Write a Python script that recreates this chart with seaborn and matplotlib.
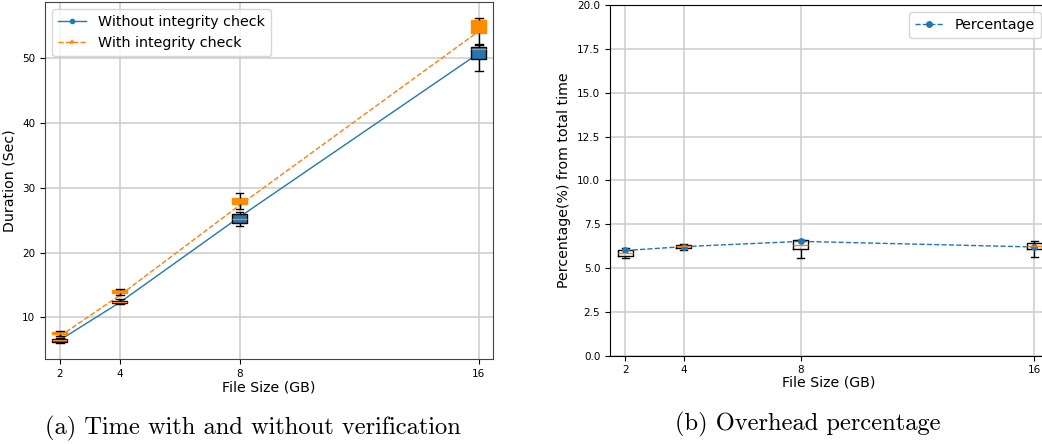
import numpy as np
import pandas as pd
import matplotlib
matplotlib.use("Agg")
import matplotlib.pyplot as plt
import seaborn as sns

# ---------------- data ----------------
sizes = [2, 4, 8, 16]
xtick_labels = ["2", "4", "8", "16"]

# five-number samples (min, q1, median, q3, max) per file size
without_samples = [
    [6.0, 6.2, 6.45, 6.6, 6.75],
    [12.0, 12.15, 12.35, 12.5, 12.8],
    [24.1, 24.5, 25.2, 25.95, 26.3],
    [48.0, 49.85, 51.4, 51.8, 52.1],
]
with_samples = [
    [7.1, 7.4, 7.6, 7.8, 7.9],
    [13.45, 13.8, 14.0, 14.2, 14.3],
    [26.7, 27.5, 28.0, 28.5, 29.15],
    [52.2, 53.95, 55.0, 55.9, 56.2],
]
without_mean = [6.5, 12.3, 25.5, 50.8]
with_mean = [7.1, 13.4, 27.3, 54.2]

pct_samples = [
    [5.57, 5.70, 5.85, 6.00, 6.14],
    [6.00, 6.14, 6.23, 6.33, 6.39],
    [5.60, 6.10, 6.29, 6.58, 6.62],
    [5.62, 6.08, 6.27, 6.42, 6.52],
]
pct_mean = [6.0, 6.22, 6.52, 6.2]

left_yticks = [10, 20, 30, 40, 50]
right_yticks = [0.0, 2.5, 5.0, 7.5, 10.0, 12.5, 15.0, 17.5, 20.0]


def long_form(samples):
    return pd.DataFrame({
        "size": np.repeat(sizes, [len(s) for s in samples]),
        "value": np.concatenate(samples),
    })


df_without = long_form(without_samples)
df_with = long_form(with_samples)
df_pct = long_form(pct_samples)

# ---------------- figure ----------------
W, H = 1042, 444
fig = plt.figure(figsize=(W / 100, H / 100), dpi=100)

def px_axes(l, r, t, b):
    return fig.add_axes([l / W, 1 - b / H, (r - l) / W, (b - t) / H])

ax1 = px_axes(45, 493, 2, 359)
ax2 = px_axes(610, 1048, 5, 355.7)

grid_kw = dict(color="#cccccc", linewidth=1.1)
BLUE = "#1f77b4"
ORANGE = "#ff7f0e"
DORANGE = "#ff8c00"

# ---- left panel ----
sns.lineplot(x=sizes, y=without_mean, ax=ax1, color=BLUE, linestyle="-",
             marker="o", markersize=4, markeredgewidth=0, linewidth=1,
             label="Without integrity check")
sns.lineplot(x=sizes, y=with_mean, ax=ax1, color=ORANGE, linestyle="--",
             marker="*", markersize=5, markeredgewidth=0, linewidth=1,
             label="With integrity check")

sns.boxplot(data=df_without, x="size", y="value", ax=ax1, native_scale=True,
            width=0.25, whis=(0, 100), color=BLUE, saturation=1,
            linecolor="black", linewidth=1,
            medianprops=dict(color=ORANGE))
sns.boxplot(data=df_with, x="size", y="value", ax=ax1, native_scale=True,
            width=0.25, whis=(0, 100), color=DORANGE, saturation=1,
            linecolor="black", linewidth=1,
            boxprops=dict(edgecolor=DORANGE),
            medianprops=dict(color=DORANGE))

ax1.set_xlim(1.5, 16.47)
ax1.set_ylim(3.56, 58.7)
ax1.set_xticks(sizes)
ax1.set_xticklabels(xtick_labels)
ax1.set_yticks(left_yticks)
ax1.grid(True, **grid_kw)
ax1.set_axisbelow(True)
ax1.tick_params(labelsize=7.5)
ax1.set_xlabel("File Size (GB)", fontsize=10.2, labelpad=1)
ax1.set_ylabel("Duration (Sec)", fontsize=10.2, labelpad=4)
for sp in ax1.spines.values():
    sp.set_color("#444444")
ax1.legend(loc="upper left", fontsize=10.3)

# ---- right panel ----
sns.boxplot(data=df_pct, x="size", y="value", ax=ax2, native_scale=True,
            width=0.25, whis=(0, 100), fill=False, color="black",
            linecolor="black", linewidth=1,
            boxprops=dict(color="black"),
            whiskerprops=dict(color="black"),
            capprops=dict(color="black"),
            medianprops=dict(color=ORANGE))
sns.lineplot(x=sizes, y=pct_mean, ax=ax2, color=BLUE, linestyle="--",
             marker="o", markersize=5, markeredgewidth=0, linewidth=1,
             label="Percentage")

ax2.set_xlim(1.476, 16.47)
ax2.set_ylim(0, 20)
ax2.set_xticks(sizes)
ax2.set_xticklabels(xtick_labels)
ax2.set_yticks(right_yticks)
ax2.grid(True, **grid_kw)
ax2.set_axisbelow(True)
ax2.tick_params(labelsize=7.5)
ax2.set_xlabel("File Size (GB)", fontsize=10.2, labelpad=0)
ax2.set_ylabel("Percentage(%) from total time", fontsize=10.2, labelpad=4)
ax2.legend(loc="upper right", fontsize=10.3)

# ---- captions ----
fig.text(253 / W, 1 - 428 / H, "(a) Time with and without verification",
         ha="center", va="center", family="cmr10", fontsize=17.6)
fig.text(808 / W, 1 - 424 / H, "(b) Overhead percentage",
         ha="center", va="center", family="cmr10", fontsize=17.6)

fig.savefig("out.png", dpi=100)
